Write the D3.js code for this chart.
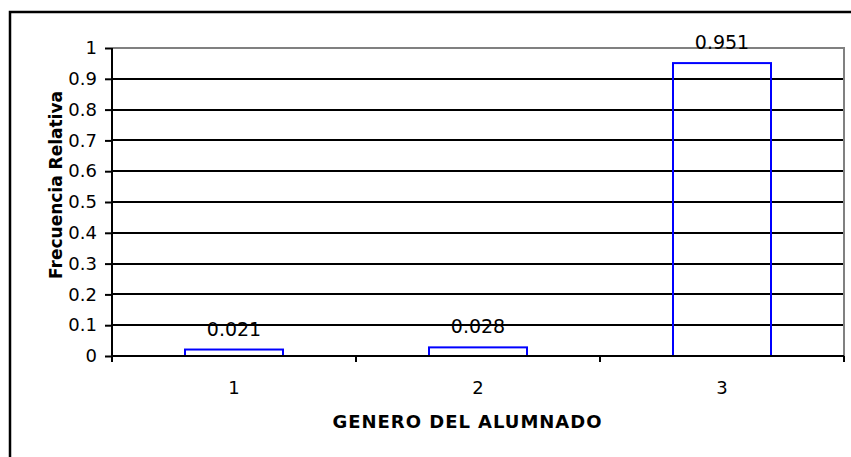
<!DOCTYPE html>
<html>
<head>
<meta charset="utf-8">
<script src="https://cdn.jsdelivr.net/npm/d3@7"></script>
<style>
  html, body { margin: 0; padding: 0; background: #fff; }
  svg { display: block; }
  text { font-family: "DejaVu Sans", Verdana, sans-serif; fill: #000; }
</style>
</head>
<body>
<svg id="chart" width="851" height="457"></svg>
<script>
const categories = ["1", "2", "3"];
const values = [0.021, 0.028, 0.951];
const valueLabels = ["0.021", "0.028", "0.951"];
const yTicks = [0, 0.1, 0.2, 0.3, 0.4, 0.5, 0.6, 0.7, 0.8, 0.9, 1];
const yTickLabels = ["0", "0.1", "0.2", "0.3", "0.4", "0.5", "0.6", "0.7", "0.8", "0.9", "1"];
const xTitle = "GENERO DEL ALUMNADO";
const yTitle = "Frecuencia Relativa";

const svg = d3.select("#chart");
const plot = { left: 112, right: 844, top: 48, bottom: 356 };

// outer chart border
svg.append("rect")
  .attr("x", 10).attr("y", 12)
  .attr("width", 860).attr("height", 470)
  .attr("fill", "none").attr("stroke", "#000").attr("stroke-width", 2.5);

const x = d3.scaleBand()
  .domain(categories)
  .range([plot.left, plot.right])
  .paddingInner(0.6).paddingOuter(0.3);

const y = d3.scaleLinear().domain([0, 1]).range([plot.bottom, plot.top]);

// gridlines
svg.append("g").selectAll("line")
  .data(yTicks.filter(t => t > 0 && t < 1))
  .join("line")
  .attr("x1", plot.left).attr("x2", plot.right)
  .attr("y1", d => Math.round(y(d))).attr("y2", d => Math.round(y(d)))
  .attr("stroke", "#000").attr("stroke-width", 2);

// plot area border (top and right, gray)
svg.append("path")
  .attr("d", `M${plot.left},${y(1)}H${plot.right}V${plot.bottom}`)
  .attr("fill", "none").attr("stroke", "#808080").attr("stroke-width", 2);

// bars (no fill)
svg.append("g").selectAll("rect")
  .data(values)
  .join("rect")
  .attr("x", (d, i) => Math.round(x(categories[i])))
  .attr("y", d => y(d))
  .attr("width", Math.round(x.bandwidth()))
  .attr("height", d => y(0) - y(d))
  .attr("fill", "none")
  .attr("stroke", "#0000ff").attr("stroke-width", 2);

// y axis
const yAxis = d3.axisLeft(y)
  .tickValues(yTicks)
  .tickFormat((d, i) => yTickLabels[i])
  .tickSize(7).tickPadding(8);
const gy = svg.append("g").attr("transform", `translate(${plot.left},0)`).call(yAxis);
gy.select(".domain").remove();
gy.selectAll(".tick line").attr("stroke", "#000").attr("stroke-width", 2);
gy.selectAll(".tick text").attr("font-size", 18).style("font-family", "DejaVu Sans").attr("fill", "#000");
svg.append("line")
  .attr("x1", plot.left).attr("x2", plot.left)
  .attr("y1", plot.top).attr("y2", plot.bottom + 6)
  .attr("stroke", "#000").attr("stroke-width", 2);

// x axis line
svg.append("line")
  .attr("x1", plot.left).attr("x2", plot.right)
  .attr("y1", plot.bottom).attr("y2", plot.bottom)
  .attr("stroke", "#000").attr("stroke-width", 2);

// x ticks at category boundaries
const boundaries = d3.range(categories.length + 1).map(i => plot.left + i * x.step());
svg.append("g").selectAll("line")
  .data(boundaries)
  .join("line")
  .attr("x1", d => d).attr("x2", d => d)
  .attr("y1", plot.bottom).attr("y2", plot.bottom + 6)
  .attr("stroke", "#000").attr("stroke-width", 2);

// x tick labels
svg.append("g").selectAll("text")
  .data(categories)
  .join("text")
  .attr("x", d => x(d) + x.bandwidth() / 2)
  .attr("y", 394)
  .attr("text-anchor", "middle")
  .attr("font-size", 18)
  .text(d => d);

// value labels
svg.append("g").selectAll("text")
  .data(values)
  .join("text")
  .attr("x", (d, i) => x(categories[i]) + x.bandwidth() / 2)
  .attr("y", d => y(d) - 14)
  .attr("text-anchor", "middle")
  .attr("font-size", 19)
  .text((d, i) => valueLabels[i]);

// axis titles
svg.append("text")
  .attr("x", 467).attr("y", 428)
  .attr("text-anchor", "middle")
  .attr("font-size", 18).attr("font-weight", "bold")
  .attr("textLength", 269).attr("lengthAdjust", "spacing")
  .text(xTitle);

svg.append("text")
  .attr("transform", `translate(62,${(92 + 278) / 2}) rotate(-90)`)
  .attr("text-anchor", "middle")
  .attr("font-size", 17).attr("font-weight", "bold")
  .text(yTitle);
</script>
</body>
</html>
